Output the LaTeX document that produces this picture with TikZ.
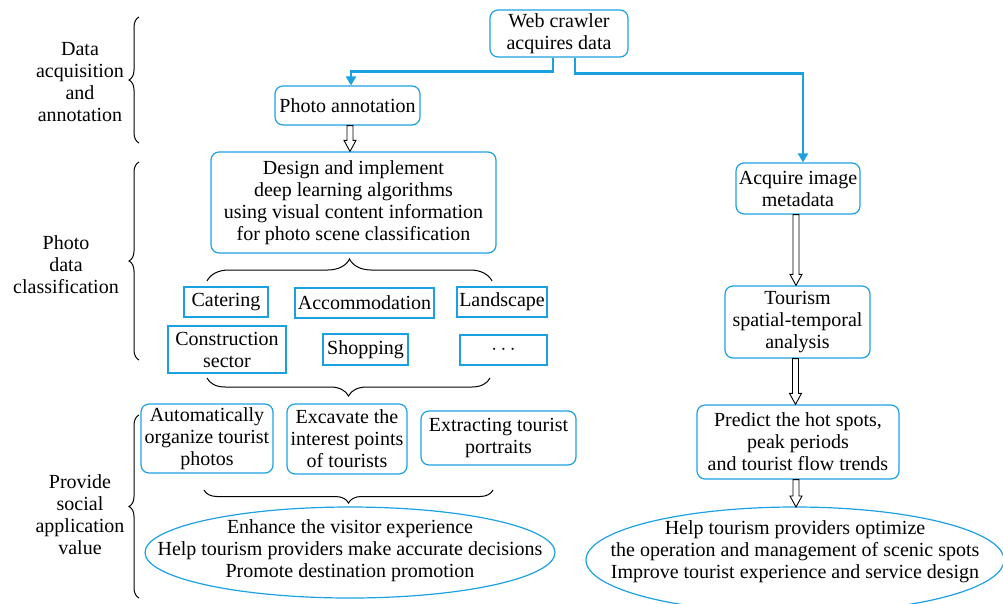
\documentclass[tikz,border=0pt]{standalone}
\usepackage{fontspec}
\setmainfont{Liberation Serif}
\newfontfamily\serifont{Liberation Serif}
\usetikzlibrary{arrows.meta,decorations.pathreplacing,shapes.geometric,calc}
\definecolor{cblue}{RGB}{27,161,226}
\begin{document}
\begin{tikzpicture}[x=1pt,y=-1pt,
  every node/.style={font=\serifont\fontsize{20}{22}\selectfont, align=center, inner sep=0pt},
  rbox/.style={draw=cblue, line width=1.2pt, rounded corners=8pt},
  sbox/.style={draw=cblue, line width=1.2pt},
  blarrow/.style={draw=cblue, line width=2.3pt, -{Triangle[length=9pt,width=10pt]}},
  dbl/.style={draw=black, line width=0.9pt, line join=miter,
    to path={let \p1=(\tikztostart), \p2=(\tikztotarget) in
      (\x1-3pt,\y1) -- (\x1-3pt,\y2+11pt) -- (\x1-6pt,\y2+11pt) -- (\x1,\y2)
      -- (\x1+6pt,\y2+11pt) -- (\x1+3pt,\y2+11pt) -- (\x1+3pt,\y1) -- cycle}},
  brc/.style={decorate, decoration={brace, amplitude=#1}, line width=1pt},
  brc/.default=10pt
]
\useasboundingbox (0,0) rectangle (1003,603);

% left labels
\node (lab1) at (80,82) {Data\\acquisition\\and\\annotation};
\node (lab2) at (66,265) {Photo\\data\\classification};
\node (lab3) at (80,515) {Provide\\social\\application\\value};

% left braces
\draw[brc] (139,143) -- (139,17);
\draw[brc] (139,360) -- (139,162);
\draw[brc] (139,598) -- (139,415);

% nodes
\node[rbox, minimum width=138pt, minimum height=47pt] (web) at (559,33.5) {Web crawler\\acquires data};
\node[rbox, minimum width=145pt, minimum height=39pt] (photoann) at (347.5,105.5) {Photo annotation};
\node[rbox, minimum width=285pt, minimum height=101pt] (design) at (353.5,202.5) {Design and implement\\deep learning algorithms\\using visual content information\\for photo scene classification};
\node[rbox, minimum width=124pt, minimum height=51pt] (acq) at (798,188.5) {Acquire image\\metadata};
\node[rbox, minimum width=145pt, minimum height=72pt] (tour) at (797.5,322) {Tourism\\spatial-temporal\\analysis};
\node[rbox, minimum width=202pt, minimum height=74pt] (pred) at (798,442) {Predict the hot spots,\\peak periods\\and tourist flow trends};

\node[sbox, minimum width=84pt, minimum height=30pt] (cater) at (226,302) {Catering};
\node[sbox, minimum width=139pt, minimum height=30pt] (accom) at (364.5,303) {Accommodation};
\node[sbox, minimum width=90pt, minimum height=30pt] (land) at (502,302) {Landscape};
\node[sbox, minimum width=118pt, minimum height=47pt] (constr) at (227,349.5) {Construction\\sector};
\node[sbox, minimum width=85pt, minimum height=31pt] (shop) at (365.5,349.5) {Shopping};
\node[sbox, minimum width=87pt, minimum height=30pt] (dots) at (503.5,350) {$\cdots$};

\node[rbox, minimum width=132pt, minimum height=69pt] (auto) at (207,438.5) {Automatically\\organize tourist\\photos};
\node[rbox, minimum width=120pt, minimum height=70pt] (exc) at (347,439) {Excavate the\\interest points\\of tourists};
\node[rbox, minimum width=155pt, minimum height=54pt] (extr) at (498.5,438) {Extracting tourist\\portraits};

% ellipses
\node (ellL) at (350,551) {Enhance the visitor experience\\Help tourism providers make accurate decisions\\Promote destination promotion};
\draw[cblue, line width=1.2pt] (350,552.5) ellipse [x radius=205, y radius=45.5];
\node (ellR) at (795,552) {Help tourism providers optimize\\the operation and management of scenic spots\\Improve tourist experience and service design};
\draw[cblue, line width=1.2pt] (795,560) ellipse [x radius=209, y radius=53];
\coordinate (ellRtop) at (796,507);

% horizontal braces
\draw[brc=22pt] (207,281) -- (492,281);
\draw[brc=18pt] (490,378) -- (207,378);
\draw[brc=13pt] (493,490) -- (204,490);

% blue connectors
\draw[blarrow] ([xshift=-6pt]web.south) -- ++(0,14) -| ([xshift=3.5pt]photoann.north);
\draw[blarrow] ([xshift=16pt]web.south) -- ++(0,16) -| ([xshift=5pt]acq.north);

% double (hollow) arrows
\draw[dbl] ([xshift=2.5pt]photoann.south) to ([xshift=2.5pt]photoann.south |- design.north);
\draw[dbl] ([xshift=-2pt]acq.south) to ([xshift=-2pt]acq.south |- tour.north);
\draw[dbl] ([xshift=-2pt]tour.south) to ([xshift=-2pt]tour.south |- pred.north);
\draw[dbl] ([xshift=-2pt]pred.south) to ([xshift=-2pt]pred.south |- ellRtop);
\end{tikzpicture}
\end{document}
